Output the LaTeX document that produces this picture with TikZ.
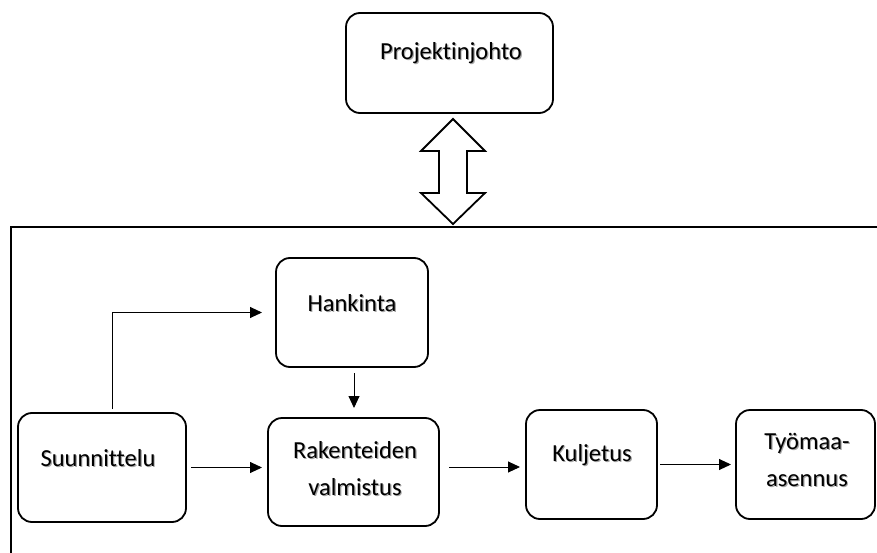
\documentclass[tikz,border=0pt]{standalone}
\usepackage{fontspec}
\setmainfont{Carlito}[Ligatures=NoCommon]
\usetikzlibrary{arrows.meta}
\begin{document}
\begin{tikzpicture}[x=1pt,y=-1pt,
  box/.style={draw=black,line width=1.8pt,rounded corners=14pt,
    inner sep=0pt,outer sep=0pt},
  txt/.style={inner sep=0pt,align=center,font=\fontsize{24.5}{37}\selectfont},
  txtshadow/.style={txt,text=black!35,xshift=1.2pt,yshift=-1.2pt},
  conn/.style={draw=black,line width=0.9pt,
    -{Triangle[length=12pt,width=11pt]}},
  frame/.style={draw=black,line width=1.5pt}]
\useasboundingbox (0,0) rectangle (877,553);

% process boxes
\node[box,minimum width=207pt,minimum height=100pt] (proj) at (449.5,63) {};
\node[box,minimum width=152pt,minimum height=109pt] (hank) at (352,312.5) {};
\node[box,minimum width=168pt,minimum height=109pt] (suun) at (102,467.5) {};
\node[box,minimum width=171pt,minimum height=108pt] (rak)  at (353.5,472) {};
\node[box,minimum width=131pt,minimum height=109pt] (kul)  at (591.5,464.5) {};
\node[box,minimum width=139pt,minimum height=109pt] (tyo)  at (805.5,464.5) {};

% soft shadows under the labels
\node[txtshadow] (projS) at (451,53) {Projektinjohto};
\node[txtshadow] (hankS) at (352,303) {Hankinta};
\node[txtshadow] (suunS) at (98,458) {Suunnittelu};
\node[txtshadow] (rakS)  at (355,468.5) {Rakenteiden\\valmistus};
\node[txtshadow] (kulS)  at (592,455) {Kuljetus};
\node[txtshadow] (tyoS)  at (807,460) {Työmaa-\\asennus};

% box labels
\node[txt] (projT) at (451,53) {Projektinjohto};
\node[txt] (hankT) at (352,303) {Hankinta};
\node[txt] (suunT) at (98,458) {Suunnittelu};
\node[txt] (rakT)  at (355,468.5) {Rakenteiden\\valmistus};
\node[txt] (kulT)  at (592,455) {Kuljetus};
\node[txt] (tyoT)  at (807,460) {Työmaa-\\asennus};

% open frame around the production chain
\coordinate (fTL) at (11,227);
\coordinate (fTR) at (877,227);
\coordinate (fBL) at (11,553);
\draw[frame] (fBL) -- (fTL) -- (fTR);

% two-way block arrow between management and the chain
\draw[line width=1.8pt,line join=miter,fill=white]
  (453,119) -- (485,151) -- (467,151) -- (467,193) -- (485,193)
  -- (453,224) -- (421,193) -- (439,193) -- (439,151) -- (421,151) -- cycle;

% flow connectors
\draw[conn,shorten <=4pt,shorten >=14pt]
  ([xshift=10pt]suun.north) |- (hank.west);
\draw[conn,shorten <=6pt,shorten >=10pt]
  ([xshift=2pt]hank.south) -- ([xshift=2pt]hank.south |- rak.north);
\draw[conn,shorten <=5pt,shorten >=6pt]
  (suun.east) -- (suun.east -| rak.west);
\draw[conn,shorten <=10pt,shorten >=6pt]
  ([yshift=5pt]rak.east) -- ([yshift=5pt]rak.east -| kul.west);
\draw[conn,shorten <=3pt,shorten >=5pt]
  (kul.east) -- (kul.east -| tyo.west);
\end{tikzpicture}
\end{document}
